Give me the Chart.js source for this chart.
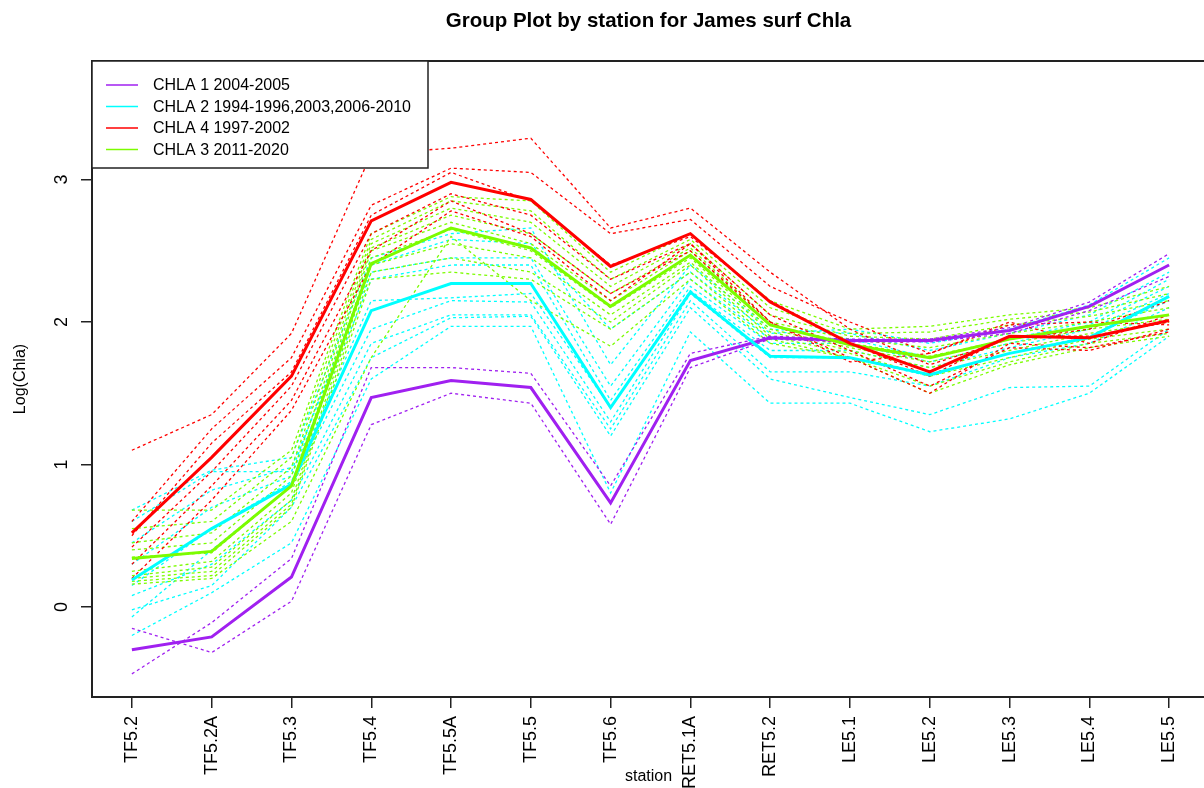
<!DOCTYPE html>
<html>
<head>
<meta charset="utf-8">
<title>Group Plot by station for James surf Chla</title>
<script src="https://cdn.jsdelivr.net/npm/chart.js@4.4.1/dist/chart.umd.min.js"></script>
<style>
  html, body { margin: 0; padding: 0; background: #fff; overflow: hidden; }
  #wrap { width: 1210px; height: 788px; }
</style>
</head>
<body>
<div id="wrap"><canvas id="chla" width="1210" height="788"></canvas></div>
<script>
// stations along the James, upstream -> downstream
var stations = ["TF5.2", "TF5.2A", "TF5.3", "TF5.4", "TF5.5A", "TF5.5", "TF5.6",
                "RET5.1A", "RET5.2", "LE5.1", "LE5.2", "LE5.3", "LE5.4", "LE5.5"];
var yTicks = [0, 1, 2, 3];

// group means (thick lines)
var chla1Mean = [-0.30, -0.21, 0.21, 1.47, 1.59, 1.54, 0.73, 1.73, 1.89, 1.87, 1.87, 1.94, 2.11, 2.40];
var chla2Mean = [0.19, 0.55, 0.86, 2.08, 2.27, 2.27, 1.40, 2.21, 1.76, 1.75, 1.63, 1.78, 1.89, 2.18];
var chla4Mean = [0.52, 1.05, 1.62, 2.71, 2.98, 2.86, 2.39, 2.62, 2.14, 1.85, 1.65, 1.90, 1.89, 2.01];
var chla3Mean = [0.34, 0.39, 0.85, 2.41, 2.66, 2.52, 2.11, 2.47, 1.98, 1.84, 1.75, 1.88, 1.97, 2.05];

// single years (dotted lines)
var chla1Years = [
  [-0.15, -0.32, 0.04, 1.28, 1.50, 1.43, 0.58, 1.68, 1.88, 1.86, 1.86, 1.92, 2.08, 2.32],
  [-0.47, -0.11, 0.34, 1.68, 1.68, 1.64, 0.85, 1.78, 1.90, 1.88, 1.88, 1.96, 2.14, 2.48]
];
var chla2Years = [
  [0.68, 0.96, 1.05, 2.45, 2.62, 2.66, 1.70, 2.40, 1.95, 1.92, 1.80, 1.92, 2.05, 2.35],
  [0.60, 0.95, 0.95, 2.40, 2.58, 2.55, 1.95, 2.35, 1.92, 1.95, 1.85, 1.95, 2.12, 2.45],
  [0.45, 0.82, 0.98, 2.35, 2.45, 2.45, 1.55, 2.30, 1.88, 1.88, 1.75, 1.88, 2.00, 2.30],
  [0.30, 0.70, 0.92, 2.30, 2.40, 2.40, 1.45, 2.25, 1.85, 1.85, 1.72, 1.85, 1.98, 2.25],
  [0.15, 0.55, 0.88, 2.15, 2.17, 2.20, 1.40, 2.22, 1.80, 1.80, 1.68, 1.82, 1.95, 2.20],
  [-0.07, 0.40, 0.85, 1.95, 2.15, 2.14, 1.30, 2.20, 1.75, 1.75, 1.62, 1.78, 1.90, 2.15],
  [0.08, 0.30, 0.75, 1.85, 2.05, 2.05, 1.25, 2.15, 1.65, 1.65, 1.55, 1.75, 1.85, 2.10],
  [-0.02, 0.15, 0.70, 1.75, 2.03, 2.04, 1.20, 2.10, 1.60, 1.47, 1.35, 1.54, 1.55, 1.95],
  [-0.20, 0.10, 0.45, 1.60, 1.97, 1.97, 0.80, 1.93, 1.43, 1.43, 1.23, 1.32, 1.50, 1.90]
];
var chla4Years = [
  [1.10, 1.35, 1.92, 3.18, 3.22, 3.29, 2.66, 2.80, 2.35, 1.95, 1.70, 1.88, 1.95, 2.15],
  [0.60, 1.25, 1.75, 2.82, 3.08, 3.05, 2.62, 2.72, 2.25, 2.00, 1.78, 2.00, 1.85, 2.05],
  [0.50, 1.15, 1.65, 2.75, 3.05, 2.85, 2.40, 2.60, 2.15, 1.85, 1.62, 1.90, 1.90, 2.00],
  [0.42, 0.95, 1.55, 2.62, 2.90, 2.75, 2.30, 2.55, 2.05, 1.80, 1.55, 1.82, 1.80, 1.95],
  [0.30, 0.85, 1.45, 2.50, 2.85, 2.62, 2.20, 2.50, 2.00, 1.75, 1.50, 1.85, 1.82, 1.93],
  [0.20, 0.75, 1.38, 2.40, 2.78, 2.60, 2.15, 2.55, 2.00, 1.72, 1.78, 1.98, 2.00, 1.98]
];
var chla3Years = [
  [0.68, 0.68, 1.10, 2.62, 2.88, 2.85, 2.35, 2.62, 2.15, 1.95, 1.97, 2.05, 2.10, 2.25],
  [0.55, 0.60, 1.05, 2.58, 2.85, 2.78, 2.30, 2.58, 2.10, 1.92, 1.93, 2.02, 2.07, 2.20],
  [0.45, 0.52, 0.98, 2.55, 2.80, 2.70, 2.25, 2.55, 2.05, 1.90, 1.88, 1.98, 2.04, 2.15],
  [0.40, 0.45, 0.92, 2.52, 2.75, 2.62, 2.20, 2.52, 2.00, 1.88, 1.82, 1.92, 2.00, 2.10],
  [0.35, 0.38, 0.85, 2.50, 2.70, 2.55, 2.15, 2.50, 1.98, 1.85, 1.76, 1.88, 1.97, 2.05],
  [0.25, 0.32, 0.80, 2.45, 2.65, 2.50, 2.10, 2.45, 1.95, 1.82, 1.72, 1.85, 1.95, 2.02],
  [0.22, 0.28, 0.75, 2.40, 2.55, 2.45, 2.05, 2.42, 1.93, 1.80, 1.68, 1.80, 1.92, 2.00],
  [0.20, 0.25, 0.72, 2.35, 2.45, 2.35, 2.00, 2.40, 1.90, 1.78, 1.62, 1.75, 1.88, 1.95],
  [0.18, 0.22, 0.70, 2.30, 2.35, 2.30, 1.95, 2.35, 1.88, 1.75, 1.55, 1.72, 1.85, 1.92],
  [0.16, 0.20, 0.60, 1.75, 2.60, 2.15, 1.83, 2.30, 1.85, 1.75, 1.50, 1.70, 1.82, 1.90]
];

var groupNames = ["CHLA 1 2004-2005", "CHLA 2 1994-1996,2003,2006-2010", "CHLA 4 1997-2002", "CHLA 3 2011-2020"];
var groupColors = ["#A020F0", "#00FFFF", "#FF0000", "#7CFC00"];

var FONT = "'Liberation Sans', Arial, Helvetica, sans-serif";

function meanLine(label, values, color) {
  return { label: label, data: values, borderColor: color, borderWidth: 3,
           pointRadius: 0, tension: 0, fill: false };
}
function yearLine(values, color) {
  return { label: "", data: values, borderColor: color, borderWidth: 1.3,
           borderDash: [3, 3], pointRadius: 0, tension: 0, fill: false };
}

// index 0 is painted last, so the means go first
var datasets = [
  meanLine(groupNames[2], chla4Mean, groupColors[2]),
  meanLine(groupNames[3], chla3Mean, groupColors[3]),
  meanLine(groupNames[1], chla2Mean, groupColors[1]),
  meanLine(groupNames[0], chla1Mean, groupColors[0])
];
chla1Years.forEach(function(v) { datasets.push(yearLine(v, groupColors[0])); });
chla4Years.forEach(function(v) { datasets.push(yearLine(v, groupColors[2])); });
chla3Years.forEach(function(v) { datasets.push(yearLine(v, groupColors[3])); });
chla2Years.forEach(function(v) { datasets.push(yearLine(v, groupColors[1])); });

// R-style box, titles, rotated y labels and legend
var rDecor = {
  id: "rDecor",
  afterDraw: function(chart) {
    var ctx = chart.ctx, a = chart.chartArea, y = chart.scales.y;
    ctx.save();
    ctx.strokeStyle = "#222";
    ctx.lineWidth = 2;
    ctx.beginPath();
    ctx.moveTo(a.left, a.top);
    ctx.lineTo(a.right, a.top);
    ctx.lineTo(a.right, a.bottom);
    ctx.stroke();

    ctx.fillStyle = "#000";
    ctx.textAlign = "center";
    ctx.textBaseline = "alphabetic";
    ctx.font = "bold 20.5px " + FONT;
    ctx.fillText("Group Plot by station for James surf Chla", (a.left + a.right) / 2 - 2, 27);

    ctx.font = "16px " + FONT;
    ctx.fillText("station", (a.left + a.right) / 2 - 2, 781);

    yTicks.forEach(function(t) {
      ctx.save();
      ctx.translate(67, y.getPixelForValue(t));
      ctx.rotate(-Math.PI / 2);
      ctx.font = "18px " + FONT;
      ctx.fillText(String(t), 0, 0);
      ctx.restore();
    });

    ctx.save();
    ctx.translate(25, (a.top + a.bottom) / 2);
    ctx.rotate(-Math.PI / 2);
    ctx.font = "16px " + FONT;
    ctx.fillText("Log(Chla)", 0, 0);
    ctx.restore();

    // legend box
    var lx = a.left, ly = a.top, lw = 336, lh = 107;
    ctx.fillStyle = "#fff";
    ctx.fillRect(lx, ly, lw, lh);
    ctx.strokeStyle = "#222";
    ctx.lineWidth = 1.5;
    ctx.strokeRect(lx, ly, lw, lh);
    ctx.font = "16px " + FONT;
    ctx.textAlign = "left";
    ctx.textBaseline = "middle";
    for (var i = 0; i < groupNames.length; i++) {
      var ry = ly + 24 + i * 21.5;
      ctx.strokeStyle = groupColors[i];
      ctx.lineWidth = 1.5;
      ctx.beginPath();
      ctx.moveTo(lx + 14, ry);
      ctx.lineTo(lx + 46, ry);
      ctx.stroke();
      ctx.fillStyle = "#000";
      ctx.fillText(groupNames[i], lx + 61, ry + 1);
    }
    ctx.restore();
  }
};

var ctx = document.getElementById("chla");
var chart = new Chart(ctx, {
  type: "line",
  data: { labels: stations, datasets: datasets },
  plugins: [rDecor],
  options: {
    responsive: false,
    animation: false,
    devicePixelRatio: 1,
    layout: { padding: { top: 61, right: 1, left: 0, bottom: 0 } },
    plugins: {
      legend: { display: false },
      title: { display: false },
      tooltip: { enabled: false }
    },
    scales: {
      x: {
        type: "category",
        offset: true,
        border: { display: true, color: "#222", width: 2 },
        grid: { display: true, drawOnChartArea: false, drawTicks: true, tickLength: 11,
                color: "#222", lineWidth: 1.5 },
        ticks: { autoSkip: false, minRotation: 90, maxRotation: 90, padding: 8,
                 color: "#000", font: { family: FONT, size: 18 } },
        afterFit: function(s) { s.height = 91; }
      },
      y: {
        min: -0.632,
        max: 3.832,
        border: { display: true, color: "#222", width: 2 },
        grid: { display: true, drawOnChartArea: false, drawTicks: true, tickLength: 11,
                color: "#222", lineWidth: 1.5 },
        ticks: { stepSize: 1, includeBounds: false, display: false },
        afterFit: function(s) { s.width = 92; }
      }
    }
  }
});
</script>
</body>
</html>
